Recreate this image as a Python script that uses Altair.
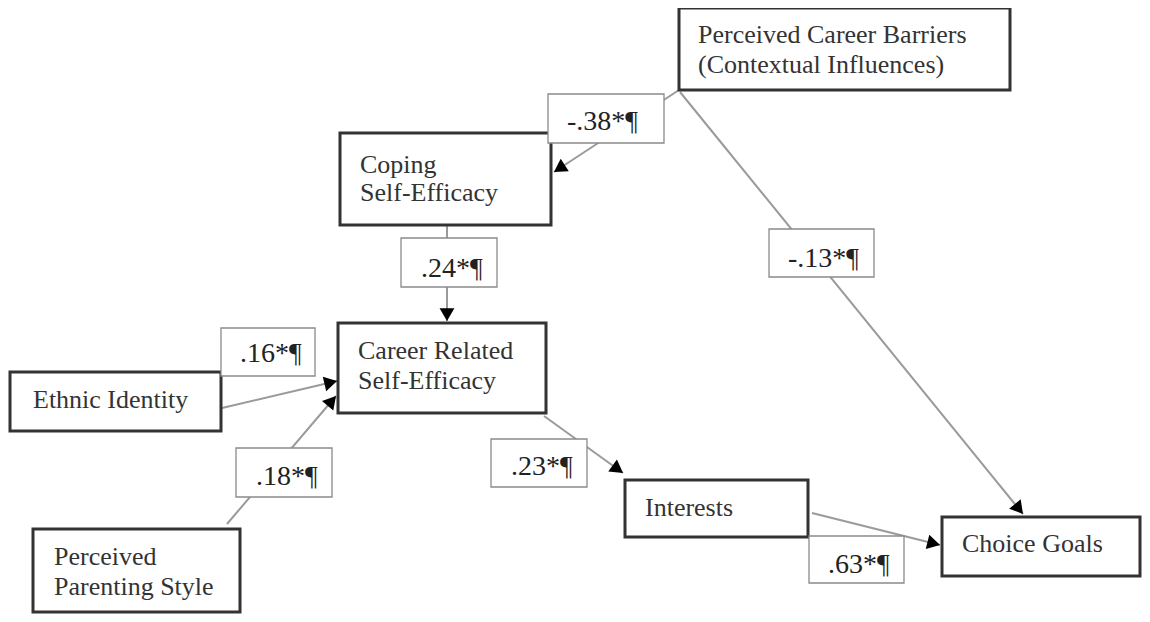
import math
import altair as alt
import pandas as pd

# ---- node boxes (page pixel layout of the path diagram) ----
node_names = ["Perceived Career Barriers", "Coping Self-Efficacy", "Career Related Self-Efficacy",
              "Ethnic Identity", "Perceived Parenting Style", "Interests", "Choice Goals"]
node_left = [679, 340, 338, 10, 33, 625, 942]
node_right = [1010, 551, 546, 221, 240, 808, 1140]
node_top = [8, 133, 323, 372, 529, 480, 517]
node_bottom = [90, 225, 413, 431, 612, 537, 576]

# ---- node text lines ----
line_text = ["Perceived Career Barriers", "(Contextual Influences)", "Coping", "Self-Efficacy",
             "Career Related", "Self-Efficacy", "Ethnic Identity", "Perceived", "Parenting Style",
             "Interests", "Choice Goals"]
line_x = [698, 698, 360, 360, 358, 358, 33, 54, 54, 645, 962]
line_y = [43, 73, 173, 201, 359, 389, 408, 565, 595, 516, 552]

# ---- paths (start point, arrow tip) ----
path_names = ["Barriers->Coping", "Barriers->Choice", "Coping->Career", "Ethnic->Career",
              "Parenting->Career", "Career->Interests", "Interests->Choice"]
path_x0 = [679, 680, 447, 222, 227, 544, 812]
path_y0 = [90, 92, 225, 408, 524, 416, 513]
path_x1 = [554, 1023, 447, 337, 336, 623, 940]
path_y1 = [172, 514, 321, 381, 396, 473, 545]

# ---- coefficients ----
coef_text = ["-.38*¶", "-.13*¶", ".24*¶", ".16*¶", ".18*¶", ".23*¶", ".63*¶"]
coef_left = [548, 769, 401, 221, 236, 491, 809]
coef_right = [664, 874, 497, 315, 332, 587, 904]
coef_top = [94, 229, 238, 328, 448, 439, 536]
coef_bottom = [143, 277, 287, 376, 497, 487, 583]
coef_tx = [567, 788, 421, 240, 256, 511, 828]
coef_ty = [130, 267, 277, 362, 485, 475, 573]

FONT = "Liberation Serif"
W, H = 1134, 606
XS = alt.Scale(domain=[8, 8 + W], nice=False, zero=False)
YS = alt.Scale(domain=[8, 8 + H], nice=False, zero=False, reverse=True)

nodes = pd.DataFrame({"name": node_names, "x": node_left, "x2": node_right,
                      "y": node_top, "y2": node_bottom})
lines = pd.DataFrame({"t": line_text, "x": line_x, "y": line_y})
paths = pd.DataFrame({"name": path_names, "x": path_x0, "y": path_y0,
                      "x2": path_x1, "y2": path_y1})
coefs = pd.DataFrame({"t": coef_text, "x": coef_left, "x2": coef_right,
                      "y": coef_top, "y2": coef_bottom, "tx": coef_tx, "ty": coef_ty})

# arrowheads: orient triangles along each path
ARROW = 220
half_h = math.sqrt(3) / 2 * math.sqrt(ARROW) / 2
hx, hy, ha = [], [], []
for x0, y0, x1, y1 in zip(path_x0, path_y0, path_x1, path_y1):
    dx, dy = x1 - x0, y1 - y0
    L = math.hypot(dx, dy)
    ux, uy = dx / L, dy / L
    hx.append(x1 - ux * half_h)
    hy.append(y1 - uy * half_h)
    ha.append(math.degrees(math.atan2(dx, -dy)) % 360)
heads = pd.DataFrame({"x": hx, "y": hy, "a": ha})

edge_layer = alt.Chart(paths).mark_rule(color="#9a9a9a", strokeWidth=2).encode(
    x=alt.X("x:Q", scale=XS, axis=None), y=alt.Y("y:Q", scale=YS, axis=None),
    x2="x2:Q", y2="y2:Q")

box_layer = alt.Chart(nodes).mark_rect(fill="white", stroke="#333333", strokeWidth=3).encode(
    x=alt.X("x:Q", scale=XS, axis=None), y=alt.Y("y:Q", scale=YS, axis=None),
    x2="x2:Q", y2="y2:Q")

text_layer = alt.Chart(lines).mark_text(font=FONT, fontSize=26, color="#333333",
                                        align="left", baseline="alphabetic").encode(
    x=alt.X("x:Q", scale=XS, axis=None), y=alt.Y("y:Q", scale=YS, axis=None), text="t:N")

coef_box = alt.Chart(coefs).mark_rect(fill="white", stroke="#8a8a8a", strokeWidth=1.3).encode(
    x=alt.X("x:Q", scale=XS, axis=None), y=alt.Y("y:Q", scale=YS, axis=None),
    x2="x2:Q", y2="y2:Q")

coef_txt = alt.Chart(coefs).mark_text(font=FONT, fontSize=28, color="#222222",
                                      align="left", baseline="alphabetic").encode(
    x=alt.X("tx:Q", scale=XS, axis=None), y=alt.Y("ty:Q", scale=YS, axis=None), text="t:N")

head_layer = alt.Chart(heads).mark_point(shape="triangle-up", filled=True, color="black",
                                         opacity=1, size=ARROW).encode(
    x=alt.X("x:Q", scale=XS, axis=None), y=alt.Y("y:Q", scale=YS, axis=None),
    angle=alt.Angle("a:Q", scale=None))

chart = alt.layer(edge_layer, box_layer, text_layer, coef_box, coef_txt, head_layer).properties(
    width=W, height=H, padding=0, autosize="none", background="white"
).configure_view(strokeWidth=0)

chart.save("out.html", embed_options={"renderer": "svg", "actions": False})
